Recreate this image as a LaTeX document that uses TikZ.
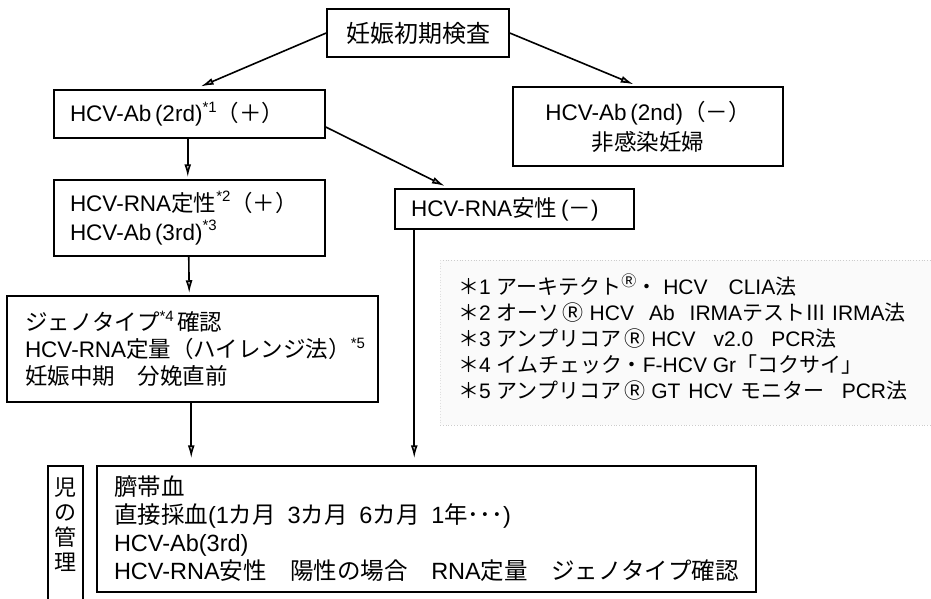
\documentclass[tikz,border=0pt]{standalone}
\usepackage{fontspec}
\setmainfont{Liberation Sans}
\newfontfamily\jp{Noto Sans CJK JP}
\newcommand\J[1]{{\jp #1}}
\newcommand\sps[1]{\raisebox{0.42em}{\fontsize{15}{15}\selectfont #1}}
\newcommand\RR{\hspace{3pt}\J{Ⓡ}\hspace{6pt}}
\usetikzlibrary{arrows.meta}
\tikzset{
  box/.style={draw, line width=1.5pt, inner ysep=0pt},
  arr/.style={line width=1.6pt, -{Latex[length=13pt,width=7pt,open,fill=gray!55]}},
  txt/.style={font=\fontsize{22.5}{29}\selectfont},
}
\begin{document}
\begin{tikzpicture}[x=1pt,y=-1pt]
\useasboundingbox (0,0) rectangle (931,598);
% footnote background
\fill[gray!4] (440,260) rectangle (931,425);
\draw[gray!40, dotted, line width=0.8pt] (440,260) -- (931,260);
\draw[gray!40, dotted, line width=0.8pt] (440,425) -- (931,425);
\draw[gray!25, dotted, line width=0.8pt] (440,260) -- (440,425);

\node[box, minimum width=182pt, minimum height=48pt, font=\fontsize{24}{28}\selectfont] (T) at (418,33) {\J{妊娠初期検査}};

\node[box, txt, inner xsep=16pt, text width=239pt, minimum height=48pt, align=left] (A) at (189.5,114)
  {\mbox{HCV-Ab\,(2rd)\sps{*1}\J{（＋）}}};

\node[box, txt, text width=250pt, inner xsep=10pt, minimum height=79pt, align=center, font=\fontsize{22.5}{30}\selectfont] (B) at (648,126.5)
  {\mbox{HCV-Ab\,(2nd)\J{（－）}}\\\J{非感染妊婦}};

\node[box, txt, inner xsep=16pt, text width=239pt, minimum height=76pt, align=left] (C) at (189.5,218)
  {\mbox{HCV-RNA\J{定性}\sps{*2}\J{（＋）}}\\\mbox{HCV-Ab\,(3rd)\sps{*3}}};

\node[box, txt, inner xsep=16pt, text width=207pt, minimum height=40pt, align=left] (D) at (514.5,209)
  {\mbox{HCV-RNA\J{安性}\,(\J{－})}};

\node[box, inner xsep=18pt, text width=335pt, minimum height=106pt, align=left, font=\fontsize{22.5}{27}\selectfont] (E) at (192.5,349)
  {\mbox{\J{ジェノタイプ}\sps{*4}\,\J{確認}}\\\mbox{HCV-RNA\J{定量（ハイレンジ法）}\sps{*5}}\\\mbox{\J{妊娠中期　分娩直前}}};

\node[box, inner xsep=17pt, text width=625pt, minimum height=126pt, align=left, font=\fontsize{23.5}{28}\selectfont] (M) at (426.5,529)
  {\J{臍帯血}\\\mbox{\J{直接採血}(1\J{カ月}\enspace3\J{カ月}\enspace6\J{カ月}\enspace1\J{年･･･})}\\HCV-Ab(3rd)\\\mbox{HCV-RNA\J{安性　陽性の場合　}RNA\J{定量　ジェノタイプ確認}}};

\draw[line width=1.5pt] (48,466) rectangle (83,615);
\node[align=center, font=\fontsize{22}{25}\selectfont, inner sep=0pt] (K) at (65.5,525) {\J{児}\\\J{の}\\\J{管}\\\J{理}};

\node[anchor=west, align=left, inner sep=0pt, font=\fontsize{21}{26}\selectfont] (F) at (458,337)
  {\J{＊}1 \J{アーキテクト}\sps{\J{Ⓡ}}\J{・} HCV\quad CLIA\J{法}\\
   \J{＊}2 \J{オーソ}\RR HCV\hspace{15pt}Ab\hspace{15pt}IRMA\J{テスト}\J{Ⅲ}\hspace{6pt}IRMA\J{法}\\
   \J{＊}3 \J{アンプリコア}\RR HCV\hspace{18pt}v2.0\hspace{18pt}PCR\J{法}\\
   \J{＊}4 \J{イムチェック・}F-HCV Gr\J{「コクサイ」}\\
   \J{＊}5 \J{アンプリコア}\RR GT\hspace{8pt}HCV\hspace{8pt}\J{モニター}\hspace{17pt}PCR\J{法}};

% connectors
\draw[arr, shorten >=7pt] (T.west) -- ([xshift=141pt]A.north west);
\draw[arr, shorten >=5pt] (T.east) -- ([xshift=126pt]B.north west);
\draw[arr, shorten >=2pt] ([xshift=134.5pt]A.south west) -- ([xshift=134.5pt]C.north west);
\draw[arr, shorten >=5pt] ([yshift=-13pt]A.east) -- ([xshift=55pt]D.north west);
\draw[arr, shorten >=2pt] ([xshift=135.5pt]C.south west) -- ([xshift=183pt]E.north west);
\draw[arr, shorten >=7pt] ([xshift=185pt]E.south west) -- ([xshift=95pt]M.north west);
\draw[arr, shorten >=7pt] ([xshift=20pt]D.south west) -- ([xshift=318pt]M.north west);
\end{tikzpicture}
\end{document}
